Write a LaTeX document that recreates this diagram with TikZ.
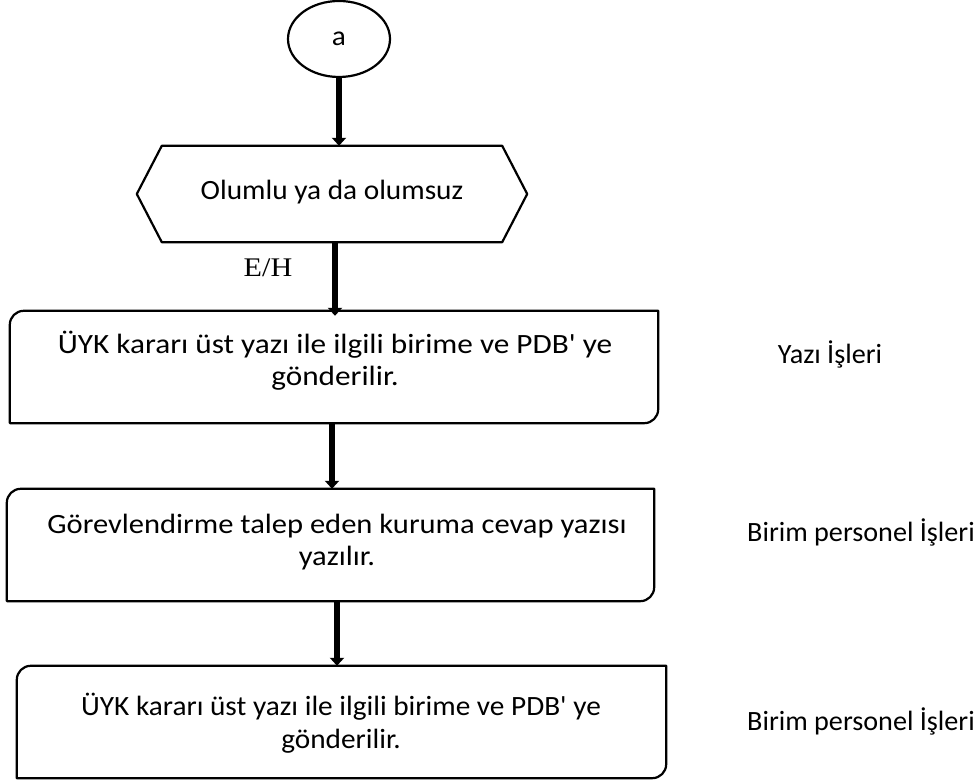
\documentclass[tikz,border=0pt]{standalone}
\usepackage{fontspec}
\setmainfont{Carlito}[Ligatures=TeXOff]
\newfontfamily\fA{Carlito}[Ligatures=TeXOff, FakeStretch=1.12]
\newfontfamily\fB{Carlito}[Ligatures=TeXOff, FakeStretch=1.095]
\newfontfamily\fC{Carlito}[Ligatures=TeXOff, FakeStretch=1.05]
\newfontfamily\fD{Carlito}[Ligatures=TeXOff, FakeStretch=1.01]
\newfontfamily\serifA{Liberation Serif}[FakeStretch=1.12]
\usetikzlibrary{arrows.meta,calc,shapes.geometric}
\begin{document}
\begin{tikzpicture}[x=1bp,y=1bp,
  shapeline/.style={line width=2.2bp, line join=round},
  arr/.style={line width=6bp, -{Triangle[width=14bp,length=8bp]}},
  boxfrm/.style={draw=none, inner sep=0pt},
  txt/.style={align=center, inner sep=0pt},
  sidelbl/.style={inner sep=0pt}]
\useasboundingbox (0,0) rectangle (980,782);
% start ellipse
\node[ellipse, draw, shapeline, minimum width=102bp, minimum height=76bp, inner sep=0pt,
      font=\fC\fontsize{28}{32}\selectfont] (st) at (339,743) {a};
% hexagon frame
\node[boxfrm, minimum width=340bp, minimum height=96bp] (hex) at (332,588) {};
\draw[shapeline] (hex.north west) -- (hex.north east) -- ($(hex.east)+(25,0)$) -- (hex.south east)
  -- (hex.south west) -- ($(hex.west)+(-25,0)$) -- cycle;
\node[txt, font=\fC\fontsize{28}{32}\selectfont] (hext) at (332,590) {Olumlu ya da olumsuz};
% boxes
\node[boxfrm, minimum width=648bp, minimum height=112bp] (b1) at (334,415) {};
\node[boxfrm, minimum width=647bp, minimum height=112bp] (b2) at (330.5,237) {};
\node[boxfrm, minimum width=649bp, minimum height=112bp] (b3) at (341.5,60) {};
\foreach \bx in {b1,b2,b3}{
  \draw[shapeline] (\bx.south west) -- ($(\bx.north west)+(0,-14)$)
    arc[start angle=180,end angle=90,radius=14bp] -- (\bx.north east)
    -- ($(\bx.south east)+(0,14)$) arc[start angle=0,end angle=-90,radius=14bp] -- cycle;
}
\node[txt, font=\fA\fontsize{28}{32}\selectfont] (t1) at (335,421) {ÜYK kararı üst yazı ile ilgili birime ve PDB' ye\\gönderilir.};
\node[txt, font=\fB\fontsize{28}{32}\selectfont] (t2) at (337,240) {Görevlendirme talep eden kuruma cevap yazısı\\yazılır.};
\node[txt, font=\fC\fontsize{28}{33}\selectfont] (t3) at (341,59) {ÜYK kararı üst yazı ile ilgili birime ve PDB' ye\\gönderilir.};
% side labels
\node[sidelbl, font=\fD\fontsize{28}{32}\selectfont] (s1) at (830,428) {Yazı İşleri};
\node[sidelbl, font=\fD\fontsize{28}{32}\selectfont] (s2) at (861,250) {Birim personel İşleri};
\node[sidelbl, font=\fD\fontsize{28}{32}\selectfont] (s3) at (861,61) {Birim personel İşleri};
% arrows
\coordinate (a1s) at (st.south);
\coordinate (a2s) at ($(hex.south)+(3,0)$);
\coordinate (a3s) at ($(b1.south)+(-2,0)$);
\coordinate (a4s) at ($(b2.south)+(6.5,0)$);
\draw[arr] (a1s) -- (a1s |- hex.north);
\draw[arr] (a2s) -- ($(a2s |- b1.north)+(0,-5)$);
\draw[arr] (a3s) -- (a3s |- b2.north);
\draw[arr] (a4s) -- (a4s |- b3.north);
\node[font=\serifA\fontsize{27}{30}\selectfont, inner sep=0pt] (eh) at (268,514) {E/H};
\end{tikzpicture}
\end{document}
